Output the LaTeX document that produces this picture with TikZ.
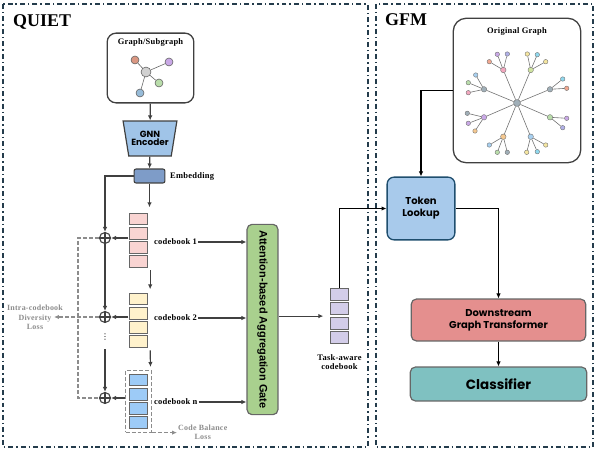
\documentclass[tikz,border=0pt]{standalone}
\usepackage{fontspec}
\setmainfont{Liberation Serif}
\newfontfamily\labfont[LetterSpace=3]{Liberation Serif}
\newfontfamily\geofont{Poppins}
\newfontfamily\gatefont{Liberation Sans}
\newfontfamily\symfont{DejaVu Sans}
\usepackage{tikz}
\usetikzlibrary{positioning,arrows.meta,fit,calc,shapes.geometric}

\definecolor{framec}{HTML}{243C4C}
\definecolor{linec}{HTML}{404040}
\definecolor{lossc}{HTML}{8C8C8C}
\definecolor{cellc}{HTML}{666666}
\definecolor{pinkc}{HTML}{F9D4D2}
\definecolor{yellowc}{HTML}{FFF2CC}
\definecolor{bluec}{HTML}{9DCBF7}
\definecolor{lavc}{HTML}{D3CDE9}
\definecolor{embc}{HTML}{7E9CC8}
\definecolor{gnnc}{HTML}{A0C4E8}
\definecolor{gatec}{HTML}{A9D08E}
\definecolor{tokenc}{HTML}{A8CAEB}
\definecolor{tokenb}{HTML}{1F4E6E}
\definecolor{dsc}{HTML}{E48F8E}
\definecolor{clsc}{HTML}{7FC1C1}
% graph node colours
\definecolor{gpink}{HTML}{F2A7BE}
\definecolor{gyel}{HTML}{F5E6A0}
\definecolor{gcyan}{HTML}{8FD8EE}
\definecolor{gsal}{HTML}{F2A890}
\definecolor{gpur}{HTML}{C9A8E6}
\definecolor{glav}{HTML}{B0B0E8}
\definecolor{ggreen}{HTML}{B9DDAA}
\definecolor{gblue}{HTML}{A8D0F0}
\definecolor{ggray}{HTML}{A0AFB8}
\definecolor{gorange}{HTML}{F5C890}
\definecolor{glime}{HTML}{CFE3A0}

\begin{document}
\begin{tikzpicture}[x=1bp, y=-1bp,
  frame/.style={draw=framec, line width=1.6pt,
                dash pattern=on 5pt off 3pt on 1.5pt off 3pt},
  title/.style={font=\fontsize{18}{20}\selectfont\bfseries, inner sep=0pt},
  lab/.style={font=\labfont\fontsize{8.5}{9.5}\selectfont\bfseries, inner sep=1pt},
  losslab/.style={lab, text=lossc, align=center,
                  font=\labfont\fontsize{8}{9.5}\selectfont\bfseries},
  geo/.style={font=\geofont\bfseries\fontsize{10}{12}\selectfont, align=center},
  cell/.style={draw=cellc, line width=1pt, minimum width=19, minimum height=12,
               inner sep=0pt},
  gbox/.style={draw=linec, line width=1.3pt, rounded corners=9pt},
  colbox/.style={draw=cellc, line width=1.2pt, rounded corners=5pt, geo},
  oplus/.style={circle, draw=linec, line width=1.1pt, minimum size=11pt,
                inner sep=0pt,
                path picture={\draw[linec, line width=1.1pt]
                  (path picture bounding box.north) -- (path picture bounding box.south)
                  (path picture bounding box.west) -- (path picture bounding box.east);}},
  arr/.style={-{Latex[length=5pt,width=4.5pt]}, draw=linec, line width=1.2pt},
  arrk/.style={arr, draw=black},
  lossline/.style={draw=lossc, line width=1.1pt, dash pattern=on 4pt off 2pt},
  lossarr/.style={lossline, -{Latex[length=5pt,width=4.5pt]}},
  gnode/.style={circle, draw=black!60, line width=0.6pt, inner sep=0pt,
                minimum size=8pt},
  hub/.style={circle, draw=black!55, line width=0.4pt, inner sep=0pt,
              minimum size=5.5pt},
  leaf/.style={hub, minimum size=4.5pt},
  gedge/.style={draw=black!55, line width=0.6pt},
]
\useasboundingbox (0,0) rectangle (598,453);

% ================= frames =================
\draw[frame] (3,4) rectangle (368,447);
\draw[frame] (376,4) rectangle (593,447);
\node[title, anchor=base west] (tquiet) at (13,27) {QUIET};
\node[title, anchor=base west] (tgfm) at (385,26) {GFM};

% ================= QUIET: encoder part =================
\node[gbox, minimum width=87, minimum height=70] (sub) at (150.5,68) {};
\node[lab] (subt) at (150.5,43) {Graph/Subgraph};
\node[gnode, fill=black!18, minimum size=10pt] (gc) at (146,72) {};
\node[gnode, fill=gsal!90!black] (g1) at (135,60) {};
\node[gnode, fill=gpur] (g2) at (169,62) {};
\node[gnode, fill=ggreen] (g3) at (159,83) {};
\node[gnode, fill=gblue!90!black] (g4) at (140,93) {};
\foreach \g in {g1,g2,g3,g4}
  \draw[draw=black!60, line width=0.6pt] (gc) -- (\g);

\node[trapezium, shape border rotate=180, trapezium angle=77,
      trapezium stretches=true, minimum width=54, minimum height=35,
      inner xsep=0pt, draw=linec, line width=1.2pt, fill=gnnc, geo,
      font=\geofont\bfseries\fontsize{9}{10.5}\selectfont]
  (gnn) at (150,138.5) {GNN\\[-2pt]Encoder};
\node[draw=linec, line width=1.1pt, fill=embc, rounded corners=2pt,
      minimum width=31, minimum height=14, inner sep=0pt] (emb) at (149.5,176) {};
\node[lab, anchor=west] (embt) at (169,176) {Embedding};

\draw[arr] (sub) -- (gnn);
\draw[arr] (gnn) -- (emb);

% ================= codebooks =================
\foreach \i in {1,...,4} {
  \node[cell, fill=pinkc]   (cbA\i) at (138.5,204.8+14.2*\i) {};
  \node[cell, fill=yellowc] (cbB\i) at (138.5,284.8+14.2*\i) {};
  \node[cell, fill=bluec]   (cbN\i) at (138.5,365.8+14.2*\i) {};
}
\node[fit=(cbA1)(cbA4), inner sep=0pt] (cbA) {};
\node[fit=(cbB1)(cbB4), inner sep=0pt] (cbB) {};
\node[fit=(cbN1)(cbN4), inner sep=0pt] (cbN) {};
\node[fit=(cbN1)(cbN4), inner sep=3pt, lossline] (cbNbox) {};

\draw[arr] (emb.south) -- ($(emb.south |- cbA.north)+(0,-5)$);
\draw[arr] ($(cbA.south east)+(1.5,2)$) -- ($(cbB.north east)+(1.5,-3)$);
\draw[arr] ($(cbB.south east)+(1.5,2)$) -- ($(cbNbox.north east)+(-1.5,-3)$);

% residual chain with the quantisation sums
\node[oplus] (o1) at (105,238) {};
\node[oplus] (o2) at (105,317) {};
\node[oplus] (o3) at (105,398) {};
\node[font=\symfont\fontsize{8}{8}\selectfont, inner sep=0pt] (dots) at (105,337) {⋮};

\draw[arr] (emb.west) -| (o1.north);
\draw[arr] (o1) -- (o2);
\draw[arr, shorten <=9pt] (dots.south) -- (o3);
\foreach \o/\c in {o1/cbA, o2/cbB, o3/cbNbox}
  \draw[arr] (\o -| \c.west) -- (\o);

% losses
\coordinate (lossx) at (78,0);
\coordinate (divtip) at (54,317);
\draw[lossline] (o1.west) -- (o1.west -| lossx) -- (o3.west -| lossx) -- (o3.west);
\draw[lossarr] (o2.west) -- (divtip);
\node[losslab] (divlab) at (35,317.5) {Intra-codebook\\Diversity\\Loss};
\node[losslab, anchor=west] (cbllab) at (177,432.5) {Code Balance\\Loss};
\draw[lossarr] (cbNbox.south east) -- (cbNbox.south east -| cbllab.west);

% ================= aggregation gate =================
\node[draw=cellc, line width=1.2pt, fill=gatec, rounded corners=5pt,
      minimum width=31, minimum height=191, inner sep=0pt,
      font=\gatefont\bfseries\fontsize{11}{12}\selectfont]
  (gate) at (262.5,319.5) {\rotatebox{-90}{Attention-based Aggregation Gate}};

\node[lab, anchor=west] (cl1) at (153,242) {codebook 1};
\node[lab, anchor=west] (cl2) at (153,318) {codebook 2};
\node[lab, anchor=west] (cl3) at (153,402) {codebook n};
\foreach \l in {cl1,cl2,cl3}
  \draw[arr] (\l.east) -- (\l.east -| gate.west);

% task-aware codebook
\foreach \i in {1,...,4}
  \node[cell, fill=lavc] (tk\i) at (339.5,280.1+14.4*\i) {};
\node[fit=(tk1)(tk4), inner sep=0pt] (task) {};
\node[lab, align=center] (taskt) at (339.5,362) {Task-aware\\codebook};
\draw[arr, shorten >=6pt] (gate.east |- task) -- (task.west);

% ================= GFM =================
\node[gbox, rounded corners=13pt, minimum width=128, minimum height=145]
  (og) at (517,90.5) {};
\node[lab] (ogt) at (517,32) {Original Graph};
\node[hub, fill=ggray, minimum size=7pt] (ogc) at (517,103) {};
\foreach \x/\y/\c [count=\i] in {503.3/70/gpink, 530.7/70/glime, 550/89.3/ggray,
    550/117.3/ggreen, 530.7/136.7/gblue, 503.3/136.7/gorange, 484/117.3/gpur,
    484/89.3/ggray} {
  \node[hub, fill=\c] (h\i) at (\x,\y) {};
  \draw[gedge] (ogc) -- (h\i);
}
\foreach \x/\y/\c/\h [count=\j] in {497.3/54.3/gpur/1, 507.3/54/glav/1,
    489.3/61.7/gsal/1, 527.3/54/gyel/2, 537.3/54.7/gcyan/2, 545.7/61.7/gyel/2,
    562.7/79/gcyan/3, 566.7/88.3/gsal/3, 566.7/118.3/gpur/4, 562.7/127.7/glav/4,
    526.7/152.3/gyel/5, 537.3/151.7/gcyan/5, 545.7/145/gyel/5,
    489.3/145/gblue/6, 497.3/152.3/ggreen/6, 507.3/152.3/ggray/6,
    467.3/113.3/ggray/7, 468.3/123.3/gpur/7, 475/131/gorange/7,
    475.7/75/gblue/8, 468.3/82.7/ggreen/8, 468.3/92.7/gpink/8} {
  \node[leaf, fill=\c] (lf\j) at (\x,\y) {};
  \draw[gedge] (h\h) -- (lf\j);
}

\node[draw=tokenb, line width=1.3pt, fill=tokenc, rounded corners=7pt,
      minimum width=68, minimum height=63, geo] (token) at (421,208.5) {Token\\Lookup};
\node[colbox, fill=dsc, minimum width=175, minimum height=42]
  (ds) at (498.5,320) {Downstream\\Graph Transformer};
\node[colbox, fill=clsc, minimum width=177, minimum height=34,
      font=\geofont\bfseries\fontsize{13.5}{15}\selectfont] (cls) at (498.5,384) {Classifier};

\draw[arrk] (task.north) |- (token.west);
\draw[arrk] (og.west) -| (token.north);
\draw[arrk] (token.east) -| (ds.north);
\draw[arrk] (ds) -- (cls);

\end{tikzpicture}
\end{document}
